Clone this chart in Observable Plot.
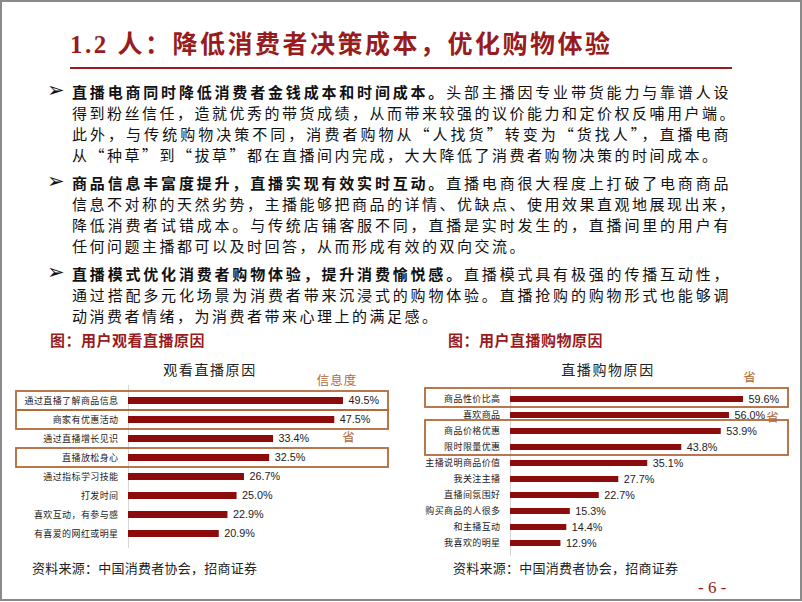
<!DOCTYPE html>
<html lang="zh-CN">
<head>
<meta charset="utf-8">
<script src="https://cdn.jsdelivr.net/npm/d3@7"></script>
<script src="https://cdn.jsdelivr.net/npm/@observablehq/plot@0.6"></script>
<style>
html,body{margin:0;padding:0;background:#fff;}
#page{position:relative;width:802px;height:602px;overflow:hidden;font-family:"Noto Sans CJK SC",sans-serif;color:#111;}
#frame{position:absolute;left:0;top:0;width:802px;height:601px;box-sizing:border-box;border:2px solid #8a8a8a;}
#title{position:absolute;left:70px;top:29px;font-size:25px;line-height:32px;font-weight:700;color:#981b1e;letter-spacing:2.5px;white-space:nowrap;font-family:"Liberation Serif","Noto Sans CJK SC",serif;}
#rule{position:absolute;left:70px;top:67px;width:662px;height:2px;background:#9b1b1e;}
.line{position:absolute;left:72px;width:659px;font-size:15px;line-height:21px;height:21px;letter-spacing:2.5px;white-space:nowrap;text-align:justify;text-align-last:justify;}
.line.last{text-align:left;text-align-last:left;}
.line b{font-weight:700;}
.bullet{position:absolute;left:47px;font-size:21px;line-height:21px;height:21px;font-family:"DejaVu Sans",sans-serif;}
.cap{position:absolute;top:330px;font-size:15px;line-height:20px;font-weight:700;color:#981b1e;letter-spacing:0.5px;white-space:nowrap;}
.ctitle{position:absolute;top:359px;font-size:14px;line-height:20px;letter-spacing:1.6px;color:#222;white-space:nowrap;transform:translateX(-50%);}
.src{position:absolute;top:559px;font-size:13px;line-height:18px;letter-spacing:0.25px;color:#222;white-space:nowrap;}
#pnum{position:absolute;left:698px;top:577px;font-size:17px;line-height:22px;color:#981b1e;font-family:"Liberation Serif",serif;white-space:pre;}
.chart{position:absolute;top:366px;}
</style>
</head>
<body>
<div id="page">
  <div id="frame"></div>
  <div id="title">1.2 人：降低消费者决策成本，优化购物体验</div>
  <div id="rule"></div>
  <div id="text"></div>
  <div class="cap" style="left:50px">图：用户观看直播原因</div>
  <div class="cap" style="left:448px">图：用户直播购物原因</div>
  <div class="ctitle" style="left:210px">观看直播原因</div>
  <div class="ctitle" style="left:608px">直播购物原因</div>
  <div class="chart" id="left" style="left:0px"></div>
  <div class="chart" id="right" style="left:400px"></div>
  <div class="src" style="left:32px">资料来源：中国消费者协会，招商证券</div>
  <div class="src" style="left:453px">资料来源：中国消费者协会，招商证券</div>
  <div id="pnum">- 6 -</div>
</div>
<script>
// ---- chart data ----
const watchReasons = ["通过直播了解商品信息","商家有优惠活动","通过直播增长见识","直播放松身心","通过指标学习技能","打发时间","喜欢互动，有参与感","有喜爱的网红或明星"];
const watchShares = [49.5, 47.5, 33.4, 32.5, 26.7, 25.0, 22.9, 20.9];
const buyReasons = ["商品性价比高","喜欢商品","商品价格优惠","限时限量优惠","主播说明商品价值","我关注主播","直播间氛围好","购买商品的人很多","和主播互动","我喜欢的明星"];
const buyShares = [59.6, 56.0, 53.9, 43.8, 35.1, 27.7, 22.7, 15.3, 14.4, 12.9];
// highlighted groups (boxes) and notes
const watchBoxes = [["通过直播了解商品信息"], ["商家有优惠活动"], ["直播放松身心"]];
const watchNotes = [{row: "通过直播了解商品信息", text: "信息度"}, {row: "通过直播增长见识", text: "省"}];
const buyBoxes = [["商品性价比高"], ["商品价格优惠", "限时限量优惠"]];
const buyNotes = [{row: "商品性价比高", text: "省"}, {row: "喜欢商品", text: "省"}];

// ---- body text ----
const paragraphs = [
  {bold: "直播电商同时降低消费者金钱成本和时间成本。", lines: [
    "头部主播因专业带货能力与靠谱人设",
    "得到粉丝信任，造就优秀的带货成绩，从而带来较强的议价能力和定价权反哺用户端。",
    "此外，与传统购物决策不同，消费者购物从“人找货”转变为“货找人”，直播电商",
    "从“种草”到“拔草”都在直播间内完成，大大降低了消费者购物决策的时间成本。"]},
  {bold: "商品信息丰富度提升，直播实现有效实时互动。", lines: [
    "直播电商很大程度上打破了电商商品",
    "信息不对称的天然劣势，主播能够把商品的详情、优缺点、使用效果直观地展现出来，",
    "降低消费者试错成本。与传统店铺客服不同，直播是实时发生的，直播间里的用户有",
    "任何问题主播都可以及时回答，从而形成有效的双向交流。"]},
  {bold: "直播模式优化消费者购物体验，提升消费愉悦感。", lines: [
    "直播模式具有极强的传播互动性，",
    "通过搭配多元化场景为消费者带来沉浸式的购物体验。直播抢购的购物形式也能够调",
    "动消费者情绪，为消费者带来心理上的满足感。"]}
];
const textBox = document.getElementById("text");
let yTop = 80.5;
paragraphs.forEach(p => {
  const bl = document.createElement("div");
  bl.className = "bullet"; bl.style.top = (yTop - 1) + "px"; bl.textContent = "➢";
  textBox.appendChild(bl);
  p.lines.forEach((ln, i) => {
    const d = document.createElement("div");
    d.className = "line" + (i === p.lines.length - 1 ? " last" : "");
    d.style.top = yTop + "px";
    if (i === 0) { const b = document.createElement("b"); b.textContent = p.bold; d.appendChild(b); d.appendChild(document.createTextNode(ln)); }
    else d.textContent = ln;
    textBox.appendChild(d);
    yTop += 21;
  });
  yTop += 7;
});

// ---- charts ----
const barColor = "#8c0b0b";
const boxColor = "#b3693a";
function makeChart(labels, values, opts) {
  const data = labels.map((k, i) => ({k, v: values[i]}));
  return Plot.plot({
    width: 400, height: opts.height,
    marginLeft: opts.ml, marginRight: 0, marginTop: opts.mt, marginBottom: opts.mb,
    style: {fontFamily: "'Noto Sans CJK SC', sans-serif", fontSize: "9px", color: "#222", background: "transparent"},
    x: {domain: [0, opts.xmax], axis: null},
    y: {domain: labels, paddingInner: opts.pin, paddingOuter: 0.5, tickSize: 0, tickPadding: 10, label: null},
    marks: [
      Plot.ruleX([0], {stroke: "#d6d6d6", strokeWidth: 1}),
      Plot.barX(data, {x: "v", y: "k", fill: barColor}),
      Plot.text(data, {x: "v", y: "k", text: d => d.v.toFixed(1) + "%", textAnchor: "start", dx: 5,
        fontSize: 10.8, fontFamily: "'Liberation Sans', Arial, sans-serif", fill: "#222"})
    ]
  });
}
function decorate(chart, boxes, notes, bx0, bx1, padT, padB, notePos) {
  const y = chart.scale("y");
  const bw = y.bandwidth || 0;
  const svg = d3.select(chart);
  svg.selectAll("g[aria-label='y-axis tick label'] text").attr("letter-spacing", "0.4px");
  for (const g of boxes) {
    const top = y.apply(g[0]) + bw / 2 - padT;
    const bot = y.apply(g[g.length - 1]) + bw / 2 + padB;
    svg.append("rect").attr("x", bx0).attr("y", top).attr("width", bx1 - bx0).attr("height", bot - top)
      .attr("fill", "none").attr("stroke", boxColor).attr("stroke-width", 1.8);
  }
  notes.forEach((n, i) => {
    const p = notePos[i];
    svg.append("text").attr("x", p.x).attr("y", y.apply(n.row) + bw / 2 + p.dy)
      .attr("dominant-baseline", "middle").attr("fill", boxColor).attr("font-size", 12.5)
      .attr("letter-spacing", "1px").text(n.text);
  });
}
const left = makeChart(watchReasons, watchShares, {height: 186, ml: 128, mt: 19, mb: 4, xmax: 272 / 4.343, pin: 0.64});
document.getElementById("left").appendChild(left);
decorate(left, watchBoxes, watchNotes, 16, 388, 9.5, 9.5, [{x: 337, dy: -19}, {x: 349, dy: 0}]);

const right = makeChart(buyReasons, buyShares, {height: 194, ml: 110, mt: 21, mb: 4, xmax: 290 / 3.91, pin: 0.6});
document.getElementById("right").appendChild(right);
decorate(right, buyBoxes, buyNotes, 25, 388, 11, 8, [{x: 350, dy: -20}, {x: 373, dy: 3.5}]);
</script>
</body>
</html>
